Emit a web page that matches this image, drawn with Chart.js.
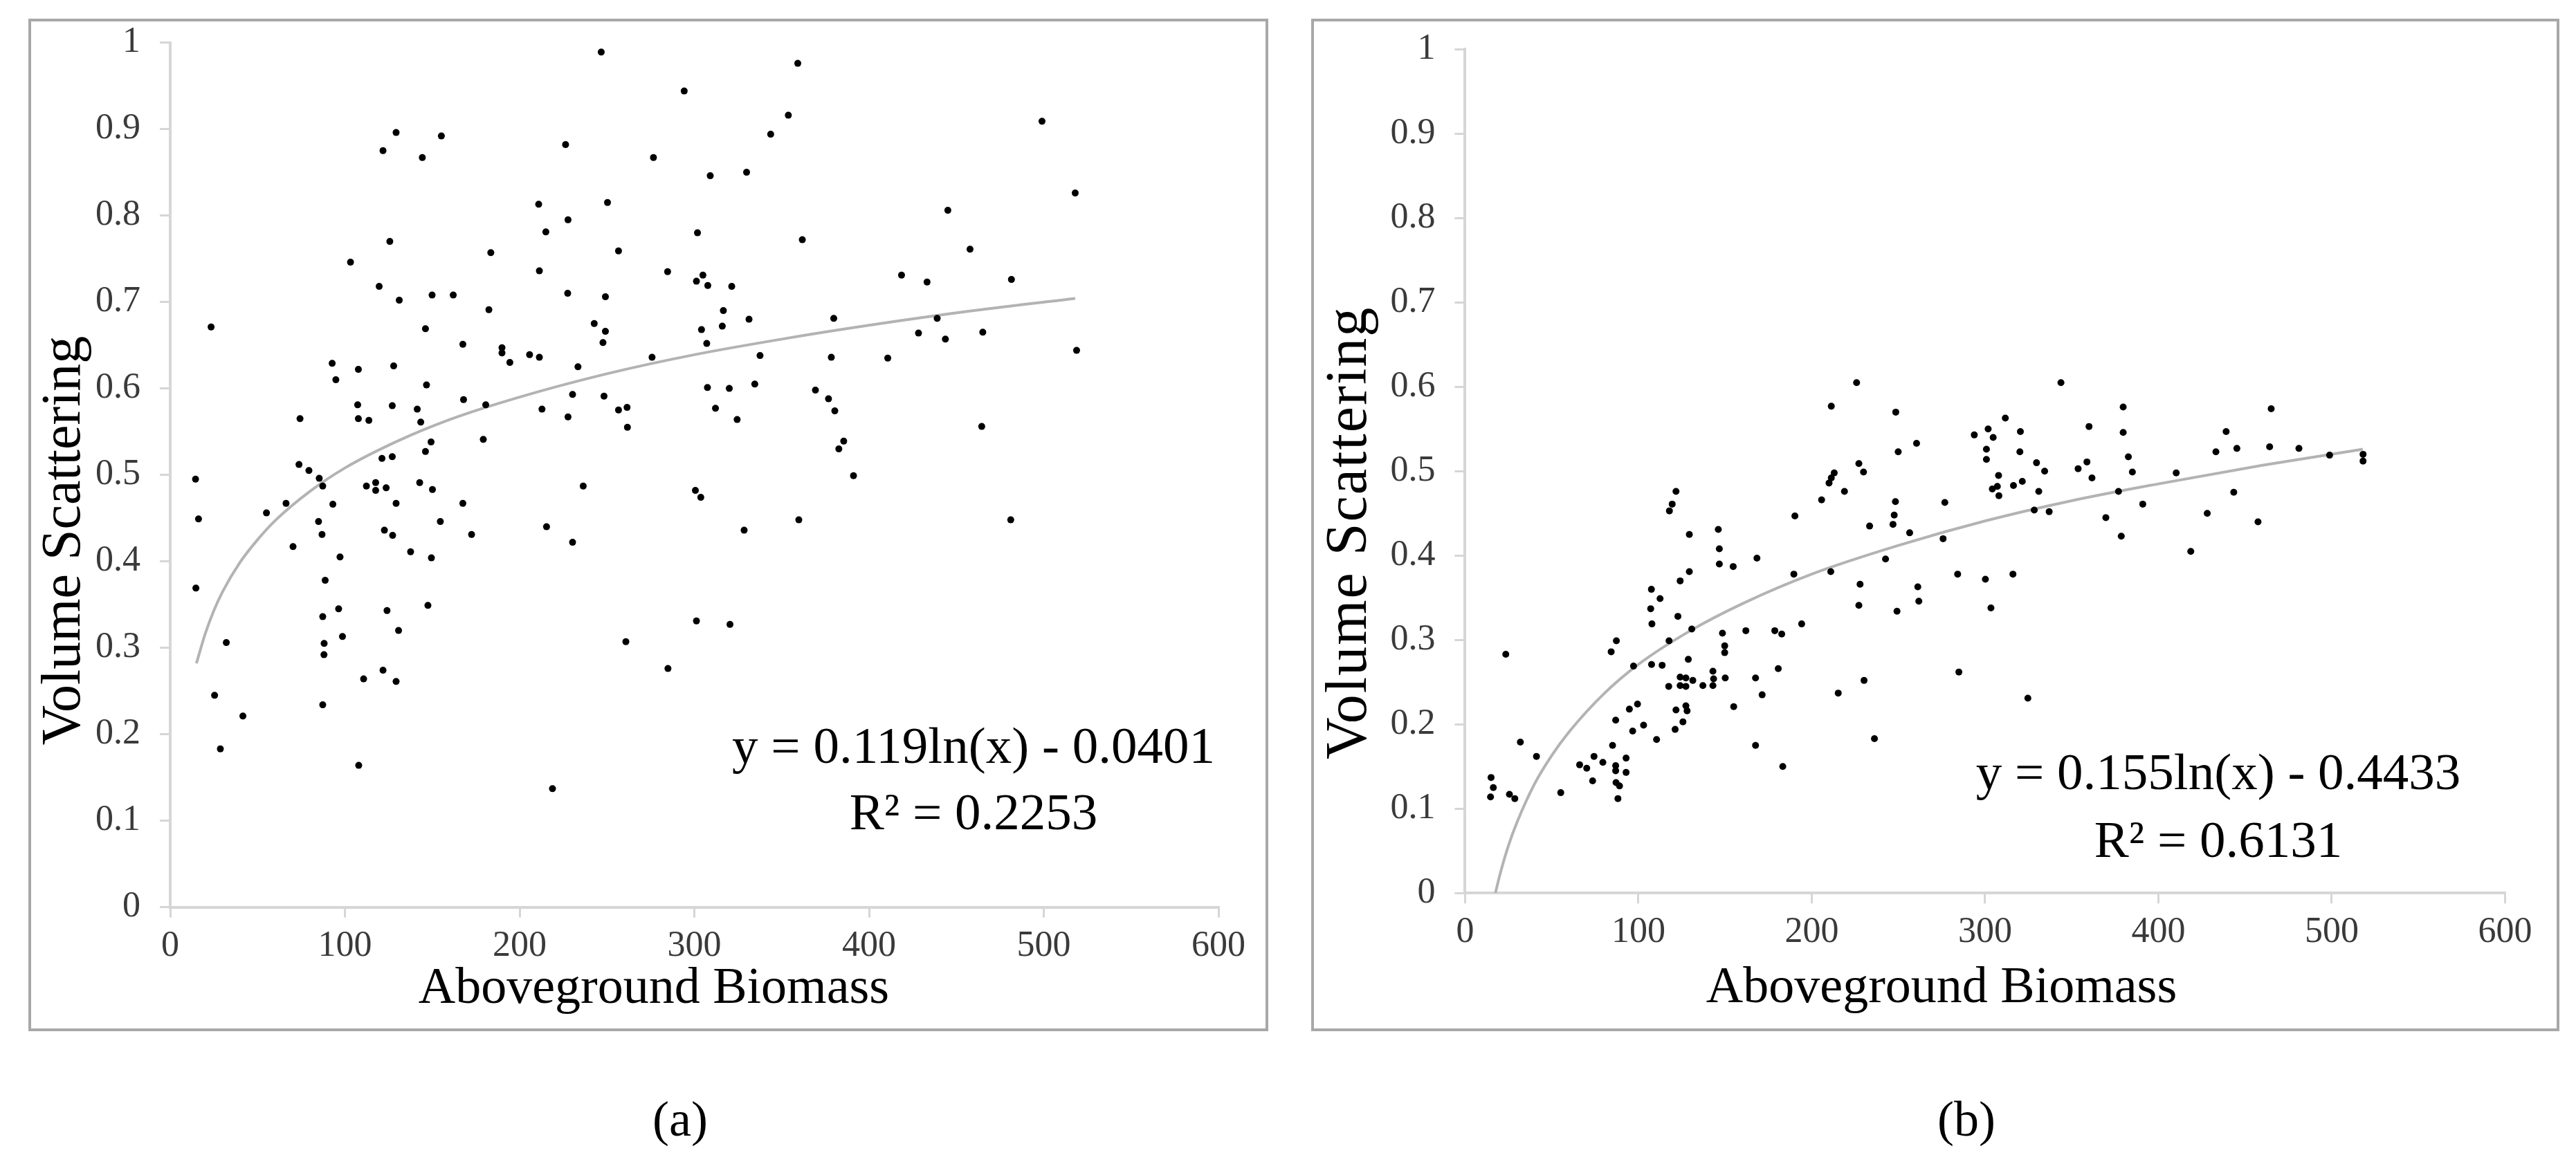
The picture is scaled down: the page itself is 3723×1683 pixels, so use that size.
<!DOCTYPE html>
<html>
<head>
<meta charset="utf-8">
<script src="https://cdn.jsdelivr.net/npm/chart.js@4.4.1/dist/chart.umd.min.js"></script>
<style>
  html, body { margin: 0; padding: 0; background: #fff; }
  body { width: 3723px; height: 1683px; position: relative; overflow: hidden; font-family: "Liberation Serif", "Times New Roman", serif; }
  .frame { position: absolute; border: 4px solid #a8a8a8; box-sizing: border-box; }
  canvas { position: absolute; top: 0; }
  .caption { position: absolute; font-size: 72px; line-height: 1; color: #000; transform: translateX(-50%); }
</style>
</head>
<body>
<div class="frame" style="left:41px;top:27px;width:1792px;height:1464px"></div>
<div class="frame" style="left:1895px;top:27px;width:1804px;height:1464px"></div>
<canvas id="chartA" width="1860" height="1683" style="left:0px"></canvas>
<canvas id="chartB" width="1853" height="1683" style="left:1870px"></canvas>
<div class="caption" style="left:983px;top:1582px">(a)</div>
<div class="caption" style="left:2842px;top:1582px">(b)</div>

<script>
// axis ticks
const xTickLabels = ["0", "100", "200", "300", "400", "500", "600"];
const yTickLabels = ["0", "0.1", "0.2", "0.3", "0.4", "0.5", "0.6", "0.7", "0.8", "0.9", "1"];
const xTitle = "Aboveground Biomass";
const yTitle = "Volume Scattering";

// panel (a) scatter
const biomassA = [
  246.7, 294.2, 129.3, 155.2, 121.8, 144.3, 226.3, 276.6, 210.9, 250.3, 227.7, 215.0, 125.7, 103.2, 183.5, 256.6,
  211.3, 284.7, 119.6, 131.1, 149.9, 162.0, 227.5, 249.1, 182.4, 23.4, 146.1, 242.7, 249.1, 247.7, 167.5, 189.9,
  189.9, 194.4, 205.7, 211.3, 233.4, 275.8, 92.7, 94.8, 107.7, 127.9, 146.7, 167.9, 180.6, 230.3, 248.3, 212.8,
  227.7, 256.6, 261.5, 261.7, 74.3, 107.3, 107.7, 113.7, 127.1, 141.4, 143.4, 179.2, 149.3, 146.1, 121.2, 127.1,
  73.7, 79.4, 85.3, 87.3, 14.5, 112.3, 117.6, 117.6, 123.6, 142.8, 150.1, 236.4,
  359.2, 353.8, 343.7, 499.0, 329.9, 309.1, 518.0, 445.1, 301.8, 361.8, 457.8, 304.9, 301.2, 307.7, 321.4, 418.6,
  433.2, 481.5, 316.6, 331.3, 379.8, 316.0, 304.1, 439.0, 428.3, 443.7, 465.1, 307.1, 337.6, 378.4, 410.7, 518.8,
  307.5, 320.0, 334.6, 369.3, 376.8, 380.4, 312.1, 324.5, 464.5, 385.5, 382.7, 391.1, 300.6, 303.7,
  328.5, 359.8, 481.1, 301.2, 320.4,
  66.3, 93.1, 129.3, 167.5, 55.1, 16.2, 84.9, 154.6, 215.4, 86.9, 122.6, 127.3, 172.5, 230.3, 70.3, 137.6,
  97.2, 149.5, 14.7, 88.7, 96.4, 124.1, 147.5, 87.3, 130.7, 98.6, 32.1, 88.1, 88.0, 260.8, 284.9, 121.8,
  110.7, 129.3, 25.4, 87.3, 41.6, 28.7, 107.9, 218.8
];
const scatterA = [
  0.989, 0.944, 0.896, 0.892, 0.875, 0.867, 0.882, 0.867, 0.813, 0.815, 0.795, 0.781, 0.770, 0.746, 0.757, 0.759,
  0.736, 0.735, 0.718, 0.702, 0.708, 0.708, 0.710, 0.706, 0.691, 0.671, 0.669, 0.675, 0.666, 0.653, 0.651, 0.647,
  0.641, 0.630, 0.639, 0.636, 0.625, 0.636, 0.629, 0.610, 0.622, 0.626, 0.604, 0.587, 0.581, 0.593, 0.591, 0.576,
  0.567, 0.575, 0.578, 0.555, 0.565, 0.581, 0.565, 0.563, 0.580, 0.576, 0.561, 0.541, 0.538, 0.527, 0.519, 0.521,
  0.512, 0.505, 0.496, 0.487, 0.495, 0.487, 0.491, 0.482, 0.485, 0.491, 0.483, 0.487,
  0.976, 0.916, 0.894, 0.909, 0.850, 0.846, 0.826, 0.806, 0.780, 0.772, 0.761, 0.731, 0.724, 0.719, 0.718, 0.731,
  0.723, 0.726, 0.690, 0.680, 0.681, 0.672, 0.668, 0.681, 0.664, 0.657, 0.665, 0.652, 0.638, 0.636, 0.635, 0.644,
  0.601, 0.600, 0.605, 0.598, 0.588, 0.574, 0.577, 0.564, 0.556, 0.539, 0.530, 0.499, 0.482, 0.474,
  0.436, 0.448, 0.448, 0.331, 0.327,
  0.467, 0.466, 0.467, 0.467, 0.456, 0.449, 0.446, 0.446, 0.440, 0.431, 0.436, 0.430, 0.431, 0.422, 0.417, 0.411,
  0.405, 0.404, 0.369, 0.378, 0.345, 0.343, 0.349, 0.336, 0.320, 0.313, 0.306, 0.305, 0.292, 0.307, 0.276, 0.274,
  0.264, 0.261, 0.245, 0.234, 0.221, 0.183, 0.164, 0.137
];

// panel (b) scatter
const biomassB = [
  146.7, 154.7, 129.4, 124.1, 107.5, 112.5, 107.1, 122.8, 107.8, 130.8, 148.5, 162.0, 149.8, 149.8, 117.7, 87.3,
  84.3, 23.5, 128.8, 97.2, 107.6, 113.7, 143.0, 143.4, 150.1, 124.1, 127.4, 131.4, 117.5, 124.1, 127.4, 137.2,
  143.0, 167.6, 171.4, 155.0, 127.4, 128.1, 121.7, 125.7, 121.2, 94.8, 99.5, 86.9, 103.0, 96.7, 110.5, 167.6,
  31.9, 41.2, 85.1, 74.4, 79.5, 92.9, 66.1, 70.2, 86.9, 86.9, 92.9, 73.6, 87.1, 89.1, 88.2, 55.2,
  15.0, 16.3, 14.7, 25.6, 28.7,
  121.7, 119.5, 117.9, 129.4, 146.1, 146.7, 168.4,
  225.9, 343.8, 211.3, 248.5, 260.5, 249.9, 311.7, 301.8, 304.7, 293.8, 320.4, 300.8, 300.8, 320.1, 329.7, 334.4,
  307.8, 307.1, 304.2, 308.0, 316.4, 321.5, 331.0, 328.4, 337.0, 227.2, 229.9, 213.0, 211.3, 210.0, 218.9, 205.7,
  190.3, 248.3, 247.6, 246.9, 233.4, 276.8, 256.5, 275.8, 242.6, 189.7, 211.0, 227.9, 227.2, 261.2, 261.8, 249.2,
  284.2, 300.2, 316.1, 303.4, 194.2, 178.7, 182.7, 180.7, 230.2, 215.3, 284.9, 324.7, 236.2, 183.3,
  379.7, 360.0, 379.7, 465.1, 439.1, 433.2, 445.3, 464.2, 481.1, 498.8, 518.1, 518.1, 358.8, 353.7, 361.7, 382.7,
  385.0, 410.3, 377.0, 391.0, 369.7, 378.6, 443.5, 428.2, 457.5, 418.7
];
const scatterB = [
  0.390, 0.387, 0.381, 0.370, 0.360, 0.349, 0.337, 0.328, 0.319, 0.313, 0.308, 0.311, 0.293, 0.285, 0.299, 0.299,
  0.286, 0.283, 0.277, 0.269, 0.271, 0.270, 0.263, 0.254, 0.255, 0.256, 0.255, 0.252, 0.245, 0.246, 0.245, 0.246,
  0.246, 0.255, 0.235, 0.221, 0.222, 0.216, 0.217, 0.203, 0.194, 0.218, 0.224, 0.205, 0.199, 0.192, 0.182, 0.175,
  0.179, 0.162, 0.175, 0.162, 0.155, 0.160, 0.152, 0.148, 0.151, 0.145, 0.143, 0.133, 0.131, 0.127, 0.112, 0.119,
  0.137, 0.125, 0.114, 0.117, 0.112,
  0.476, 0.461, 0.453, 0.425, 0.431, 0.408, 0.397,
  0.605, 0.605, 0.577, 0.570, 0.533, 0.523, 0.563, 0.550, 0.540, 0.543, 0.547, 0.526, 0.514, 0.523, 0.510, 0.500,
  0.495, 0.482, 0.479, 0.471, 0.483, 0.488, 0.476, 0.454, 0.452, 0.509, 0.499, 0.498, 0.492, 0.486, 0.476, 0.466,
  0.447, 0.464, 0.448, 0.437, 0.435, 0.463, 0.427, 0.420, 0.396, 0.378, 0.381, 0.366, 0.341, 0.363, 0.346, 0.334,
  0.378, 0.372, 0.378, 0.338, 0.319, 0.311, 0.307, 0.266, 0.252, 0.237, 0.262, 0.231, 0.183, 0.150,
  0.576, 0.553, 0.546, 0.574, 0.547, 0.523, 0.527, 0.529, 0.527, 0.519, 0.520, 0.512, 0.511, 0.503, 0.492, 0.517,
  0.499, 0.498, 0.476, 0.461, 0.445, 0.423, 0.475, 0.450, 0.440, 0.405
];

// grey log trend curves
const trendAx = [15, 20, 25, 30, 40, 50, 60, 80, 100, 130, 160, 200, 250, 300, 350, 400, 460, 518];
const trendAy = [0.282, 0.316, 0.343, 0.365, 0.399, 0.425, 0.447, 0.481, 0.508, 0.539, 0.564, 0.590, 0.617, 0.639, 0.657, 0.673, 0.690, 0.704];
const trendBx = [17.5, 20, 25, 30, 40, 50, 60, 80, 100, 130, 160, 200, 250, 300, 350, 400, 460, 518];
const trendBy = [0.000, 0.021, 0.056, 0.084, 0.129, 0.163, 0.191, 0.236, 0.271, 0.311, 0.343, 0.378, 0.412, 0.441, 0.465, 0.485, 0.507, 0.526];

const equationA = ["y = 0.119ln(x) - 0.0401", "R\u00B2 = 0.2253"];
const equationB = ["y = 0.155ln(x) - 0.4433", "R\u00B2 = 0.6131"];

const SERIF = '"Liberation Serif", "Times New Roman", serif';

function toPoints(xs, ys) {
  return xs.map((x, i) => ({ x: x, y: ys[i] }));
}

// writes axis titles and the trend equation onto the plot
const panelText = {
  id: "panelText",
  afterDraw(chart, args, opts) {
    const ctx = chart.ctx;
    const xs = chart.scales.x;
    const ys = chart.scales.y;
    const area = chart.chartArea;
    ctx.save();
    ctx.fillStyle = "#000";
    ctx.textAlign = "center";
    ctx.textBaseline = "alphabetic";

    // equation lines
    ctx.font = opts.eqSize + "px " + SERIF;
    opts.equation.forEach((line, i) => {
      ctx.fillText(line, xs.getPixelForValue(opts.eqX), ys.getPixelForValue(opts.eqY[i]));
    });

    // x title
    ctx.font = opts.xTitleSize + "px " + SERIF;
    ctx.fillText(xTitle, xs.getPixelForValue(opts.xTitleAt), area.bottom + opts.xTitleOffset);

    // y title, rotated
    ctx.font = opts.yTitleSize + "px " + SERIF;
    ctx.letterSpacing = opts.yTitleSpacing + "px";
    ctx.textBaseline = "middle";
    ctx.translate(area.left - opts.yTitleOffset, ys.getPixelForValue(opts.yTitleAt));
    ctx.rotate(-Math.PI / 2);
    ctx.fillText(yTitle, 0, 0);
    ctx.restore();
  }
};

function makePanel(id, pts, trendX, trendY, yAxisW, pad, textOpts) {
  const canvas = document.getElementById(id);
  const axisGrey = "#d6d6d6";
  return new Chart(canvas, {
    type: "scatter",
    data: {
      datasets: [
        {
          label: "points",
          data: pts,
          showLine: false,
          pointStyle: "circle",
          pointRadius: 5,
          pointBackgroundColor: "#000",
          pointBorderWidth: 0,
          order: 0
        },
        {
          label: "trend",
          data: toPoints(trendX, trendY),
          showLine: true,
          borderColor: "#b3b3b3",
          borderWidth: 4,
          pointRadius: 0,
          cubicInterpolationMode: "monotone",
          fill: false,
          order: 1
        }
      ]
    },
    options: {
      responsive: false,
      animation: false,
      devicePixelRatio: 1,
      layout: { padding: pad },
      plugins: {
        legend: { display: false },
        tooltip: { enabled: false },
        panelText: textOpts
      },
      scales: {
        x: {
          type: "linear",
          min: 0,
          max: 600,
          ticks: {
            stepSize: 100,
            autoSkip: false,
            maxRotation: 0,
            padding: 16,
            color: "#3a3a3a",
            font: { family: SERIF, size: 52, lineHeight: 1 },
            callback: (v, i) => xTickLabels[i]
          },
          grid: { display: true, drawOnChartArea: false, drawTicks: true, tickLength: 15, color: axisGrey, lineWidth: 3 },
          border: { display: true, color: axisGrey, width: 4 },
          afterFit: (s) => { s.height = 150; }
        },
        y: {
          type: "linear",
          min: 0,
          max: 1,
          ticks: {
            stepSize: 0.1,
            autoSkip: false,
            padding: 28,
            color: "#3a3a3a",
            font: { family: SERIF, size: 52, lineHeight: 1 },
            callback: (v, i) => yTickLabels[i]
          },
          grid: { display: true, drawOnChartArea: false, drawTicks: true, tickLength: 15, color: axisGrey, lineWidth: 3 },
          border: { display: true, color: axisGrey, width: 4 },
          afterFit: (s) => { s.width = yAxisW; }
        }
      }
    },
    plugins: [panelText]
  });
}

// panel (a): plot area 246..1761 x 61.6..1311.6
makePanel("chartA", toPoints(biomassA, scatterA), trendAx, trendAy, 246,
  { left: 0, top: 61.6, right: 1860 - 1761, bottom: 1683 - 150 - 1311.6 }, {
  equation: equationA, eqX: 459.8, eqY: [0.167, 0.090], eqSize: 75,
  xTitleAt: 276.8, xTitleOffset: 138, xTitleSize: 74,
  yTitleAt: 0.424, yTitleOffset: 152, yTitleSize: 80, yTitleSpacing: 0
});

// panel (b): plot area 2117.4..3620.4 x 71.3..1291.3 (canvas starts at 1870)
makePanel("chartB", toPoints(biomassB, scatterB), trendBx, trendBy, 247.4,
  { left: 0, top: 71.3, right: 1853 - 1750.4, bottom: 1683 - 150 - 1291.3 }, {
  equation: equationB, eqX: 434.6, eqY: [0.123, 0.043], eqSize: 75,
  xTitleAt: 274.9, xTitleOffset: 158, xTitleSize: 74,
  yTitleAt: 0.427, yTitleOffset: 165, yTitleSize: 84, yTitleSpacing: 2
});
</script>
</body>
</html>
